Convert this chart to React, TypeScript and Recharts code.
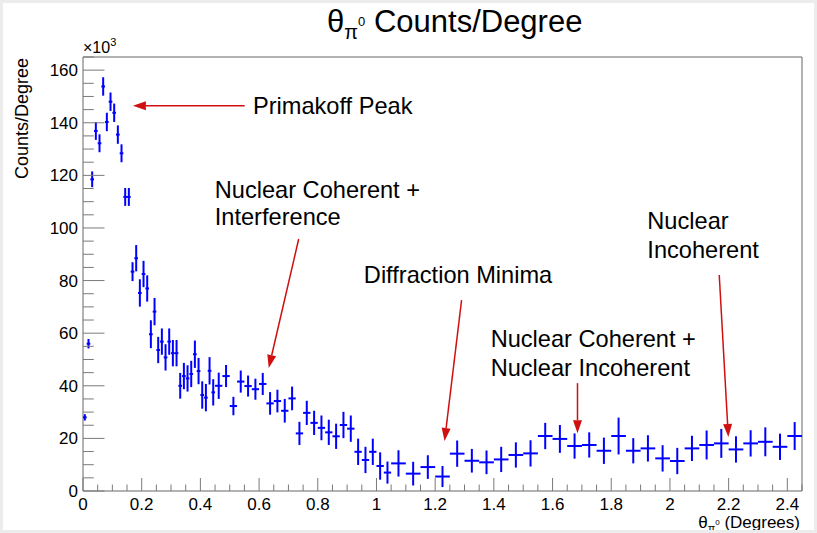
import React from "react";
import {
  ScatterChart,
  Scatter,
  XAxis,
  YAxis,
  ErrorBar,
  ReferenceArea,
  ReferenceLine,
  ReferenceDot,
} from "recharts";

// counts per degree (x10^3), three binning regions
const fineCounts = [
  28, 56, 118.5, 136.9, 132.2, 153.8, 140.3, 148, 143.8, 135.5, 128.4, 111.8,
  111.8, 83.4, 88.5, 75.3, 82.5, 77, 59.6, 68.2, 53.6, 56.8, 50.8, 56.8, 52.4,
  52.4, 40, 43.7, 42.8, 44.5, 52, 45.6, 36.5, 35.5, 45.7, 37.5,
];
const fineErrors = [
  1.2, 1.8, 3, 3.4, 3.4, 3.5, 3.5, 3.5, 3.5, 3.5, 3.4, 3.4, 3.4, 3.6, 5, 5.2,
  5, 5, 5.3, 5.2, 5, 5, 5, 5, 5, 5, 4.9, 5, 5, 5, 5.2, 5, 5.2, 5.2, 5.2, 5,
];
const midCounts = [
  40, 43.7, 32.3, 41.6, 39.9, 38.7, 40.7, 33.3, 34.2, 30.5, 35.2, 21.9, 29.7,
  25.9, 24, 22.3, 20.8, 25.1, 23.7, 14.9, 11.8, 14.9, 9.5, 7,
];
const midErrors = [
  5, 4.2, 3.5, 4.2, 4, 4, 4.2, 4.3, 4.3, 4.5, 4.5, 4.4, 4.6, 4.6, 4.7, 4.8,
  4.8, 5, 5, 5, 5, 5, 5.2, 4.2,
];
const coarseCounts = [
  10.5, 6.6, 9.1, 5.5, 14.2, 11.5, 10.9, 12, 13.7, 14.3, 20.9, 19.8, 17.1,
  17.5, 15.3, 20.9, 15.3, 16.2, 12.4, 11.4, 16.2, 17.5, 18.1, 15.8, 18.1, 18.7,
  16.8, 20.9,
];
const coarseErrors = [
  5, 4.5, 4.5, 4, 5, 4.5, 4.5, 4.8, 4.8, 5, 5, 5.3, 4.8, 4.8, 5, 7, 4.8, 5,
  5, 5, 4.8, 5.5, 5.5, 5, 5, 5.5, 5, 5.3,
];

const xTickLabels = ["0", "0.2", "0.4", "0.6", "0.8", "1", "1.2", "1.4", "1.6", "1.8", "2", "2.2", "2.4"];
const yTickLabels = ["0", "20", "40", "60", "80", "100", "120", "140", "160"];

const annotations = [
  { x: 0.579, y: 143.3, text: "Primakoff Peak" },
  { x: 0.449, y: 111.4, text: "Nuclear Coherent +" },
  { x: 0.449, y: 101.1, text: "Interference" },
  { x: 0.957, y: 79.1, text: "Diffraction Minima" },
  { x: 1.389, y: 54.7, text: "Nuclear Coherent +" },
  { x: 1.389, y: 43.7, text: "Nuclear Incoherent" },
  { x: 1.923, y: 99.6, text: "Nuclear" },
  { x: 1.923, y: 88.6, text: "Incoherent" },
];
const arrows = [
  [{ x: 0.551, y: 146.5 }, { x: 0.17, y: 146.5 }],
  [{ x: 0.735, y: 95.8 }, { x: 0.633, y: 46.8 }],
  [{ x: 1.29, y: 72.6 }, { x: 1.232, y: 19.0 }],
  [{ x: 1.685, y: 41.0 }, { x: 1.685, y: 22.0 }],
  [{ x: 2.168, y: 82.1 }, { x: 2.199, y: 20.5 }],
];

const binned = (start: number, width: number, counts: number[], errs: number[]) =>
  counts.map((c, i) => ({ x: start + width * (i + 0.5), y: c, ex: width / 2, ey: errs[i] }));

const points = [
  ...binned(0, 0.0125, fineCounts, fineErrors),
  ...binned(0.45, 0.025, midCounts, midErrors),
  ...binned(1.05, 0.05, coarseCounts, coarseErrors),
];

const X_MAX = 2.45;
const Y_MAX = 165;
const xTicks = Array.from({ length: 50 }, (_, i) => Number((i * 0.05).toFixed(2)));
const yTicks = Array.from({ length: 34 }, (_, i) => i * 5);

const FONT = "'Liberation Sans', Arial, Helvetica, sans-serif";
const AXIS = "#7a7a7a";
const RED = "#d01010";
const BLUE = "#0000ff";
const MARGIN = 4;

const XTick = (p: any) => {
  const { x, y, payload } = p;
  const v = payload.value as number;
  const axisY = y - MARGIN;
  const idx = Math.round(v / 0.2);
  const major = Math.abs(v / 0.2 - idx) < 1e-6;
  return (
    <g>
      <line x1={x} x2={x} y1={axisY} y2={axisY - (major ? 13 : 6.5)} stroke={AXIS} strokeWidth={1} />
      {major && (
        <text x={x} y={axisY + 19} textAnchor="middle" fontSize={17} fontFamily={FONT} fill="#000">
          {xTickLabels[idx]}
        </text>
      )}
    </g>
  );
};

const YTick = (p: any) => {
  const { x, y, payload } = p;
  const v = payload.value as number;
  const left = x + MARGIN;
  const major = v % 20 === 0;
  return (
    <g>
      <line x1={left} x2={left + (major ? 21.5 : 10.75)} y1={y} y2={y} stroke={AXIS} strokeWidth={1} />
      {major && (
        <text x={left - 5} y={y + 6} textAnchor="end" fontSize={17} fontFamily={FONT} fill="#000">
          {yTickLabels[v / 20]}
        </text>
      )}
    </g>
  );
};

const Arrow = (p: any) => {
  const { x1, y1, x2, y2 } = p;
  const ang = Math.atan2(y2 - y1, x2 - x1);
  const L = 13;
  const W = 4.5;
  const bx = x2 - L * Math.cos(ang);
  const by = y2 - L * Math.sin(ang);
  const nx = -Math.sin(ang) * W;
  const ny = Math.cos(ang) * W;
  return (
    <g>
      <line x1={x1} y1={y1} x2={bx} y2={by} stroke={RED} strokeWidth={1.5} />
      <polygon points={`${x2},${y2} ${bx + nx},${by + ny} ${bx - nx},${by - ny}`} fill={RED} />
    </g>
  );
};

const noDot = () => null;

export default function App() {
  return (
    <div style={{ position: "fixed", left: 0, top: 0, width: 817, height: 533, background: "#fff" }}>
      <ScatterChart width={817} height={533} margin={{ top: 57, right: 15, bottom: 12, left: 0 }}>
        <XAxis
          type="number"
          dataKey="x"
          domain={[0, X_MAX]}
          ticks={xTicks}
          interval={0}
          tickSize={0}
          tickMargin={MARGIN}
          tick={XTick}
          axisLine={false}
          tickLine={false}
          height={30}
          allowDataOverflow
        />
        <YAxis
          type="number"
          dataKey="y"
          domain={[0, Y_MAX]}
          ticks={yTicks}
          interval={0}
          tickSize={0}
          tickMargin={MARGIN}
          tick={YTick}
          axisLine={false}
          tickLine={false}
          width={83}
          allowDataOverflow
        />
        <ReferenceArea x1={0} x2={X_MAX} y1={0} y2={Y_MAX} fill="none" stroke="#666" strokeWidth={1} ifOverflow="visible" />
        <Scatter data={points} shape={noDot} isAnimationActive={false}>
          <ErrorBar dataKey="ey" direction="y" width={0} stroke={BLUE} strokeWidth={2} />
          <ErrorBar dataKey="ex" direction="x" width={0} stroke={BLUE} strokeWidth={2} />
        </Scatter>
        {arrows.map((seg, i) => (
          <ReferenceLine key={`arrow-${i}`} segment={seg} shape={Arrow} ifOverflow="visible" />
        ))}
        {annotations.map((a, i) => (
          <ReferenceDot
            key={`note-${i}`}
            x={a.x}
            y={a.y}
            r={0}
            ifOverflow="visible"
            shape={(p: any) => (
              <text x={p.cx} y={p.cy} fontSize={23.6} fontFamily={FONT} fill="#000">
                {a.text}
              </text>
            )}
          />
        ))}
      </ScatterChart>
      <svg width={817} height={533} style={{ position: "absolute", left: 0, top: 0, pointerEvents: "none" }}>
        <text x={327} y={32} fontSize={31} fontFamily={FONT} fill="#000">
          θ<tspan fontSize={20} dy={7}>π</tspan>
          <tspan fontSize={13} dy={-13}>0</tspan>
          <tspan fontSize={31} dy={6}> Counts/Degree</tspan>
        </text>
        <text x={83} y={53} fontSize={16} fontFamily={FONT} fill="#000">
          ×10<tspan fontSize={11} dy={-7}>3</tspan>
        </text>
        <text
          x={0}
          y={0}
          transform="translate(28,58) rotate(-90)"
          textAnchor="end"
          fontSize={18}
          fontFamily={FONT}
          fill="#000"
        >
          Counts/Degree
        </text>
        <text x={800} y={528} textAnchor="end" fontSize={17} fontFamily={FONT} fill="#000">
          θ<tspan fontSize={11} dy={4}>π</tspan>
          <tspan fontSize={8} dy={-7}>0</tspan>
          <tspan fontSize={17} dy={3}> (Degrees)</tspan>
        </text>
        <rect x={1.5} y={1.5} width={814} height={530} fill="none" stroke="#ececec" strokeWidth={3} />
      </svg>
    </div>
  );
}
